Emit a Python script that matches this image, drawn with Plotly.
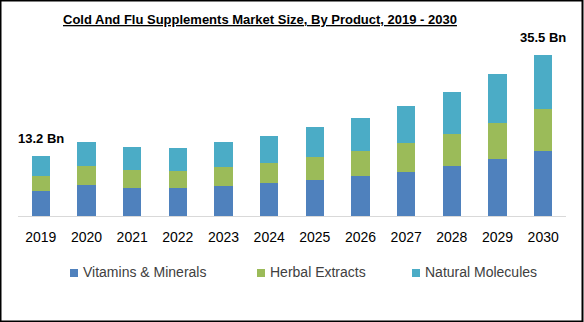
import plotly.graph_objects as go

# Market size by product segment (USD billion)
years = ["2019", "2020", "2021", "2022", "2023", "2024",
         "2025", "2026", "2027", "2028", "2029", "2030"]
vitamins_minerals = [5.5, 6.8, 6.1, 6.1, 6.6, 7.3, 7.9, 8.8, 9.7, 11.0, 12.5, 14.3]
herbal_extracts = [3.3, 4.2, 4.0, 3.8, 4.2, 4.4, 5.1, 5.5, 6.4, 7.0, 7.9, 9.2]
natural_molecules = [4.4, 5.3, 5.1, 5.1, 5.5, 5.9, 6.6, 7.3, 8.1, 9.2, 10.8, 12.0]

series_names = ["Vitamins & Minerals", "Herbal Extracts", "Natural Molecules"]
series_values = [vitamins_minerals, herbal_extracts, natural_molecules]
series_colors = ["#4F81BD", "#9BBB59", "#4BACC6"]

labelled_years = ["2019", "2030"]

W, H = 584, 322
ML, MR, MT, MB = 18, 18, 50, 106
PW, PH = W - ML - MR, H - MT - MB

FONT = "Liberation Sans"


def px_x(px):
    """Pixel column -> paper x."""
    return (px - ML) / PW


def px_y(py):
    """Pixel row (from top) -> paper y."""
    return 1 - (py - MT) / PH


xpos = list(range(len(years)))

fig = go.Figure()
for name, vals, col in zip(series_names, series_values, series_colors):
    fig.add_trace(go.Bar(
        x=xpos, y=vals, name=name, marker_color=col,
        marker_line_width=0, showlegend=False,
    ))

totals = [round(a + b + c, 1) for a, b, c in zip(*series_values)]
for yr in labelled_years:
    i = years.index(yr)
    fig.add_annotation(
        x=xpos[i], y=totals[i], text=f"<b>{totals[i]} Bn</b>",
        showarrow=False, yanchor="bottom", yshift=8,
        font=dict(family=FONT, size=13, color="#000000"),
    )

# Title
fig.add_annotation(
    xref="paper", yref="paper", x=px_x(260), y=px_y(20),
    text="<b><u>Cold And Flu Supplements Market Size, By Product, 2019 - 2030</u></b>",
    showarrow=False, xanchor="center", yanchor="middle",
    font=dict(family=FONT, size=13, color="#000000"),
)

# Legend row: colour key squares with series names
legend_sq_left = [70, 257, 412]
legend_cy = 273
for name, col, sx in zip(series_names, series_colors, legend_sq_left):
    fig.add_shape(
        type="rect", xref="paper", yref="paper",
        x0=px_x(sx), x1=px_x(sx + 8),
        y0=px_y(legend_cy + 4), y1=px_y(legend_cy - 4),
        line_width=0, fillcolor=col,
    )
    fig.add_annotation(
        xref="paper", yref="paper", x=px_x(sx + 11), y=px_y(legend_cy - 1),
        text=name, showarrow=False, xanchor="left", yanchor="middle",
        font=dict(family=FONT, size=14, color="#404040"),
    )

# Outer frame
fig.add_shape(
    type="rect", xref="paper", yref="paper",
    x0=px_x(0.5), x1=px_x(582.5), y0=px_y(H - 0.5), y1=px_y(0.5),
    line=dict(color="#000000", width=2), fillcolor="rgba(0,0,0,0)",
    layer="above",
)

fig.update_layout(
    width=W, height=H,
    margin=dict(l=ML, r=MR, t=MT, b=MB),
    barmode="stack", bargap=0.6,
    plot_bgcolor="#FFFFFF", paper_bgcolor="#FFFFFF",
    showlegend=False,
    xaxis=dict(
        range=[-0.5, len(years) - 0.5],
        tickmode="array", tickvals=xpos, ticktext=years,
        showgrid=False, zeroline=False,
        showline=True, linecolor="#D9D9D9", linewidth=1,
        ticks="", ticklabelstandoff=8,
        tickfont=dict(family=FONT, size=14, color="#000000"),
    ),
    yaxis=dict(range=[0, PH * 0.22], visible=False, showgrid=False),
)

fig.write_html("out.html")
